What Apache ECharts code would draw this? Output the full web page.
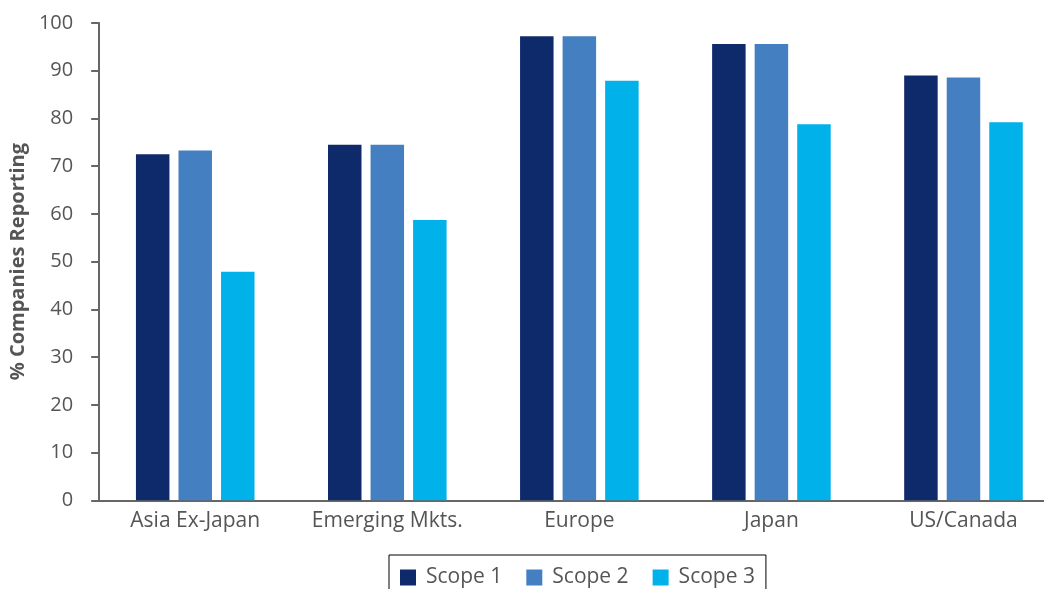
<!DOCTYPE html>
<html>
<head>
<meta charset="utf-8">
<script src="https://cdn.jsdelivr.net/npm/echarts@6/dist/echarts.min.js"></script>
<style>
html,body{margin:0;padding:0;background:#fff;overflow:hidden;width:1044px;height:589px;}
#chart{width:1062px;height:589px;}
</style>
</head>
<body>
<div id="chart"></div>
<script>
const categories = ['Asia Ex-Japan', 'Emerging Mkts.', 'Europe', 'Japan', 'US/Canada'];
const scope1 = [72.5, 74.5, 97.2, 95.6, 89.0];
const scope2 = [73.3, 74.5, 97.2, 95.6, 88.6];
const scope3 = [47.9, 58.7, 87.9, 78.8, 79.2];
const yTicks = [0, 10, 20, 30, 40, 50, 60, 70, 80, 90, 100];

const chart = echarts.init(document.getElementById('chart'), null, {renderer: 'canvas'});
const font = '"Open Sans", "Noto Sans", sans-serif';
const mkSeries = (name, data, color) => ({
  name, type: 'bar', data, barWidth: 33.5, barGap: '27%',
  itemStyle: {color}, emphasis: {disabled: true}
});
chart.setOption({
  animation: false,
  textStyle: {fontFamily: font},
  grid: {left: 97.5, top: 23, width: 962, height: 477.3},
  legend: {
    data: ['Scope 1', 'Scope 2', 'Scope 3'],
    left: 389, top: 555,
    padding: [12, 11, 12, 11],
    borderColor: '#000', borderWidth: 1,
    itemWidth: 16, itemHeight: 16, itemGap: 24,
    icon: 'rect',
    textStyle: {fontSize: 21, color: '#555', fontFamily: font, padding: [0, 0, 0, 5]}
  },
  xAxis: {
    type: 'category', data: categories,
    axisLine: {lineStyle: {color: '#666', width: 2}},
    axisTick: {show: false},
    axisLabel: {fontSize: 21, color: '#555', margin: 10, fontFamily: font, interval: 0, hideOverlap: false}
  },
  yAxis: {
    type: 'value', min: 0, max: 100, interval: 10,
    name: '% Companies Reporting', nameLocation: 'middle', nameGap: 66,
    nameTextStyle: {fontSize: 20, fontWeight: 'bold', color: '#555', fontFamily: font},
    splitLine: {show: false},
    axisLine: {show: true, lineStyle: {color: '#666', width: 2}},
    axisTick: {show: true, length: 8, lineStyle: {color: '#666', width: 2}},
    axisLabel: {fontSize: 20, color: '#555', margin: 26, fontFamily: font,
      formatter: v => yTicks.includes(v) ? String(v) : ''}
  },
  series: [
    mkSeries('Scope 1', scope1, '#0F2A6B'),
    mkSeries('Scope 2', scope2, '#4480C1'),
    mkSeries('Scope 3', scope3, '#00B1EA')
  ]
});
</script>
</body>
</html>
